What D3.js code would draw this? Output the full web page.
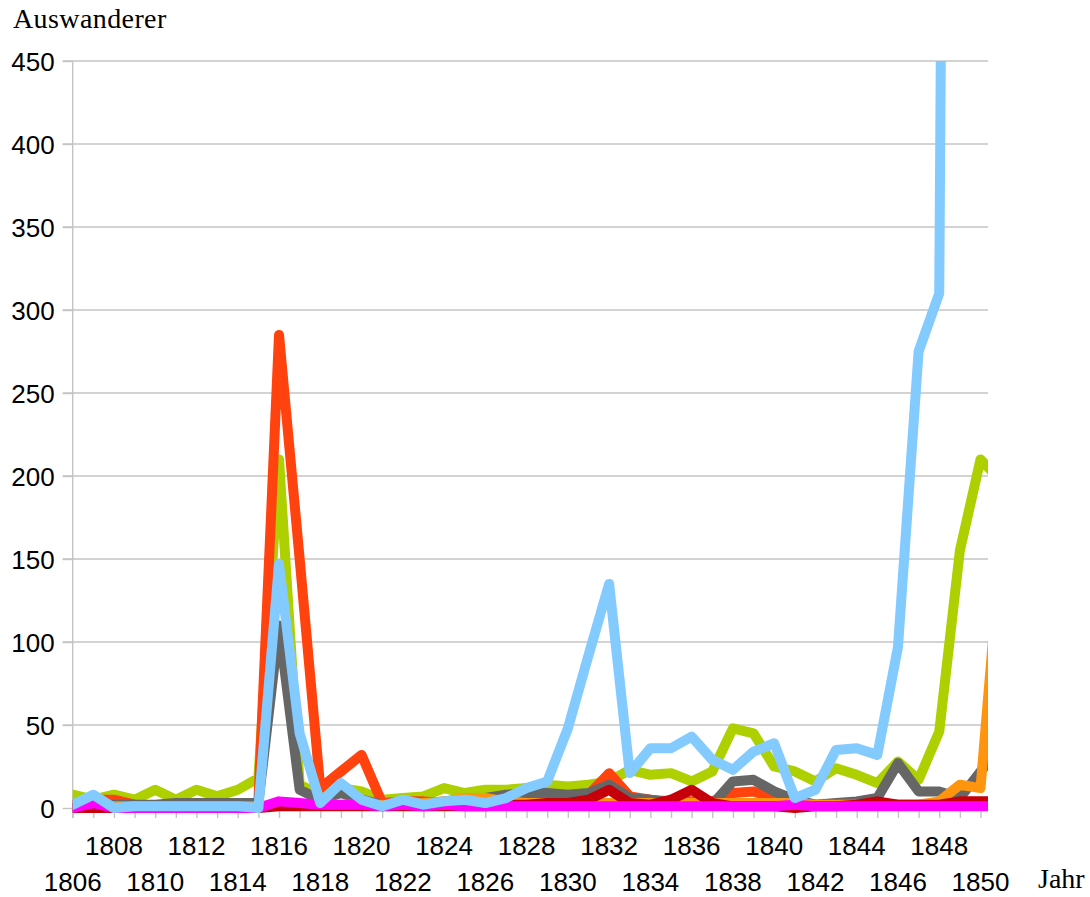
<!DOCTYPE html>
<html lang="de">
<head>
    <meta charset="UTF-8">
    <title>Auswanderer 1806-1850</title>
    <style>
        body {
            margin: 0;
            padding: 0;
            background-color: #ffffff;
        }
        svg {
            display: block;
        }
        .ylab, .xlab {
            font-family: "Liberation Sans", Arial, sans-serif;
            font-size: 26px;
            fill: #000;
        }
        .title {
            font-family: "Liberation Serif", "Times New Roman", serif;
            font-size: 28px;
            fill: #000;
        }
    </style>
</head>
<body>
    <svg width="1090" height="897"></svg>

    <script src="https://d3js.org/d3.v7.min.js"></script>
    <script>
        // years incl. 1851 (only a sliver is visible at the right edge)
        let years = [1806, 1807, 1808, 1809, 1810, 1811, 1812, 1813, 1814, 1815,
                     1816, 1817, 1818, 1819, 1820, 1821, 1822, 1823, 1824, 1825,
                     1826, 1827, 1828, 1829, 1830, 1831, 1832, 1833, 1834, 1835,
                     1836, 1837, 1838, 1839, 1840, 1841, 1842, 1843, 1844, 1845,
                     1846, 1847, 1848, 1849, 1850, 1851];

        let tickLabelsUpper = [1808, 1812, 1816, 1820, 1824, 1828, 1832, 1836, 1840, 1844, 1848];
        let tickLabelsLower = [1806, 1810, 1814, 1818, 1822, 1826, 1830, 1834, 1838, 1842, 1846, 1850];
        let yTicks = [0, 50, 100, 150, 200, 250, 300, 350, 400, 450];

        let green = [8, 5, 8, 5, 11, 5, 11, 7, 11, 18,
                     210, 14, 8, 12, 10, 5, 6, 7, 12, 9,
                     11, 11, 12, 14, 13, 14, 16, 23, 20, 21,
                     16, 22, 48, 45, 25, 22, 16, 24, 20, 15,
                     28, 17, 46, 155, 210, 197];
        let red = [2, 5, 5, 2, 1, 1, 1, 1, 1, 4,
                   285, 150, 12, 22, 32, 3, 4, 4, 3, 3,
                   3, 3, 3, 4, 4, 8, 21, 7, 5, 4,
                   4, 4, 9, 10, 6, 3, 2, 2, 2, 2,
                   2, 2, 2, 3, 3, 3];
        let gray = [2, 2, 2, 2, 2, 3, 3, 3, 3, 3,
                    110, 11, 5, 9, 5, 2, 3, 3, 4, 5,
                    6, 8, 9, 9, 8, 9, 14, 6, 5, 3,
                    2, 2, 16, 17, 10, 5, 2, 3, 4, 6,
                    27, 10, 10, 6, 22, 36];
        let orange = [1, 1, 1, 1, 1, 1, 1, 1, 1, 1,
                      2, 2, 2, 2, 2, 2, 2, 3, 4, 6,
                      6, 4, 3, 3, 3, 3, 3, 3, 3, 3,
                      3, 3, 3, 3, 3, 3, 2, 2, 2, 2,
                      2, 2, 4, 14, 12, 160];
        let darkred = [0, 0, 0, 0, 0, 0, 0, 0, 0, 0,
                       1, 1, 1, 1, 1, 1, 1, 1, 1, 1,
                       1, 2, 2, 3, 3, 5, 11, 3, 2, 5,
                       11, 3, 1, 1, 1, 0, 1, 1, 2, 4,
                       2, 2, 2, 4, 4, 4];
        let magenta = [0, 3, 0, 0, 0, 0, 0, 0, 0, 0,
                       4, 3, 2, 2, 2, 1, 2, 1, 2, 1,
                       1, 1, 1, 1, 1, 1, 1, 1, 1, 1,
                       1, 1, 1, 1, 1, 2, 1, 1, 1, 1,
                       1, 1, 1, 1, 1, 1];
        let blue = [2, 8, 0, 1, 1, 1, 1, 1, 1, 0,
                    147, 45, 3, 15, 5, 1, 5, 2, 4, 5,
                    3, 6, 12, 16, 48, 92, 135, 21, 36, 36,
                    43, 29, 23, 34, 39, 6, 11, 35, 36, 32,
                    97, 275, 310, 2200, 1900, 1700];

        // drawing order back to front
        let series = [
            { name: "green", values: green, color: "#aecf00" },
            { name: "red", values: red, color: "#ff420e" },
            { name: "gray", values: gray, color: "#666666" },
            { name: "orange", values: orange, color: "#ff950e" },
            { name: "darkred", values: darkred, color: "#c5000b" },
            { name: "magenta", values: magenta, color: "#ff00ff" },
            { name: "blue", values: blue, color: "#83caff" }
        ];

        let svg = d3.select("svg");

        let plotLeft = 72.7, plotRight = 988, plotTop = 61, plotBottom = 808;

        let x = d3.scaleLinear()
            .domain([1806, 1850])
            .range([plotLeft, 980.5]);

        let y = d3.scaleLinear()
            .domain([0, 450])
            .range([plotBottom, plotTop]);

        // gridlines
        svg.append("g")
            .selectAll("line")
            .data(yTicks.filter(d => d > 0))
            .enter()
            .append("line")
            .attr("x1", plotLeft - 10)
            .attr("x2", plotRight)
            .attr("y1", d => y(d))
            .attr("y2", d => y(d))
            .attr("stroke", "#c4c4c4")
            .attr("stroke-width", 1.4);

        // y axis
        let yAxis = d3.axisLeft(y)
            .tickValues(yTicks)
            .tickSize(10)
            .tickPadding(8);
        let gy = svg.append("g")
            .attr("transform", `translate(${plotLeft},0)`)
            .call(yAxis);
        gy.select(".domain").remove();
        gy.selectAll(".tick line").attr("stroke", "#c4c4c4").attr("stroke-width", 1.4);
        gy.selectAll(".tick text")
            .attr("class", "ylab")
            .attr("font-size", null)
            .attr("font-family", null)
            .attr("dy", "0.36em");
        svg.append("line")
            .attr("x1", plotLeft).attr("x2", plotLeft)
            .attr("y1", plotTop).attr("y2", plotBottom + 10)
            .attr("stroke", "#c4c4c4")
            .attr("stroke-width", 1.4);

        // x axis ticks (every year)
        let xAxis = d3.axisBottom(x)
            .tickValues(years.filter(d => d <= 1850))
            .tickSize(10)
            .tickFormat("");
        let gx = svg.append("g")
            .attr("transform", `translate(0,${plotBottom})`)
            .call(xAxis);
        gx.select(".domain").remove();
        gx.selectAll(".tick line").attr("stroke", "#c4c4c4").attr("stroke-width", 1.4);

        // two rows of year labels
        svg.append("g")
            .selectAll("text")
            .data(tickLabelsUpper)
            .enter()
            .append("text")
            .attr("class", "xlab")
            .attr("x", d => x(d))
            .attr("y", 855)
            .attr("text-anchor", "middle")
            .text(d => d);

        svg.append("g")
            .selectAll("text")
            .data(tickLabelsLower)
            .enter()
            .append("text")
            .attr("class", "xlab")
            .attr("x", d => x(d))
            .attr("y", 891)
            .attr("text-anchor", "middle")
            .text(d => d);

        // clip the lines to the plot area
        svg.append("clipPath")
            .attr("id", "plotclip")
            .append("rect")
            .attr("x", plotLeft)
            .attr("y", plotTop)
            .attr("width", plotRight - plotLeft)
            .attr("height", 840 - plotTop);

        let line = d3.line()
            .x((d, i) => x(years[i]))
            .y(d => y(d));

        svg.append("g")
            .attr("clip-path", "url(#plotclip)")
            .selectAll("path")
            .data(series)
            .enter()
            .append("path")
            .attr("d", d => line(d.values))
            .attr("fill", "none")
            .attr("stroke", d => d.color)
            .attr("stroke-width", 10)
            .attr("stroke-linejoin", "round")
            .attr("stroke-linecap", "round");

        // axis titles
        svg.append("text")
            .attr("class", "title")
            .attr("x", 13)
            .attr("y", 28)
            .attr("letter-spacing", "0.4px")
            .text("Auswanderer");

        svg.append("text")
            .attr("class", "title")
            .attr("x", 1038)
            .attr("y", 888)
            .text("Jahr");
    </script>
</body>
</html>
